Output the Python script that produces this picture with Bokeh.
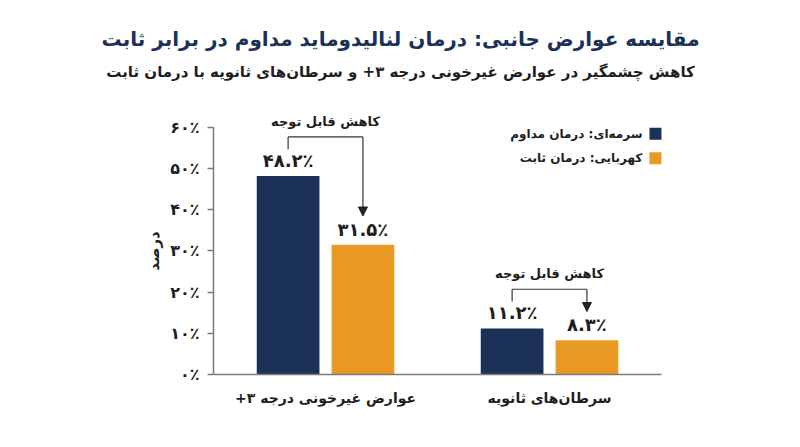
import math
from bokeh.plotting import figure
from bokeh.models import (ColumnDataSource, Range1d, FixedTicker,
                          Label, Arrow, NormalHead)
from bokeh.embed import file_html
from bokeh.resources import INLINE
from bokeh.core.properties import value

RLM = "\u200f"

# ---------------- data ----------------
categories = ["عوارض غیرخونی درجه ۳+", "سرطان‌های ثانویه"]
continuous_values = [48.2, 11.2]
fixed_values = [31.5, 8.3]
continuous_labels = ["۴۸.۲٪", "۱۱.۲٪"]
fixed_labels = ["۳۱.۵٪", "۸.۳٪"]
series_names = ["سرمه‌ای: درمان مداوم", "کهربایی: درمان ثابت"]
y_ticks = [0, 10, 20, 30, 40, 50, 60]
y_tick_labels = ["۰٪", "۱۰٪", "۲۰٪", "۳۰٪", "۴۰٪", "۵۰٪", "۶۰٪"]
annotation_text = "کاهش قابل توجه"
title_text = "مقایسه عوارض جانبی: درمان لنالیدوماید مداوم در برابر ثابت"
subtitle_text = "کاهش چشمگیر در عوارض غیرخونی درجه ۳+ و سرطان‌های ثانویه با درمان ثابت"
y_label = "درصد"

# ---------------- style / layout ----------------
NAVY = "#1b3158"
AMBER = "#e89a24"
TEXT = "#1e1e1e"
AXIS = "#7a7a7a"
FONT = "DejaVu Sans"
BAR_W = 0.28
OFF = 0.167
W, H = 784, 431

n = len(categories)
centers = [i + 0.5 for i in range(n)]
x_cont = [c - OFF for c in centers]
x_fix = [c + OFF for c in centers]

src = ColumnDataSource(dict(xc=x_cont, xf=x_fix, cont=continuous_values,
                            fix=fixed_values, cl=continuous_labels, fl=fixed_labels))

p = figure(width=W, height=H, output_backend="svg", toolbar_location=None,
           x_range=Range1d(-0.951, 2.549), y_range=Range1d(-13.85, 90.85),
           min_border=0)
p.outline_line_color = None
p.xgrid.grid_line_color = None
p.ygrid.grid_line_color = None
p.background_fill_color = "white"
p.border_fill_color = "white"

# bars
p.vbar(x="xc", top="cont", width=BAR_W, source=src, fill_color=NAVY, line_color=None)
p.vbar(x="xf", top="fix", width=BAR_W, source=src, fill_color=AMBER, line_color=None)

# value labels
for xcol, col, lab in (("xc", "cont", "cl"), ("xf", "fix", "fl")):
    p.text(x=xcol, y=col, text=lab, source=src,
           text_align="center", text_baseline="bottom", y_offset=-5,
           text_font=value(FONT), text_font_style="bold",
           text_font_size="18px", text_color=TEXT)

# axes
yax = p.yaxis[0]
yax.fixed_location = 0
yax.bounds = (0, 60)
yax.ticker = FixedTicker(ticks=y_ticks)
yax.major_label_overrides = {t: l for t, l in zip(y_ticks, y_tick_labels)}
yax.major_label_text_font = FONT
yax.major_label_text_font_style = "bold"
yax.major_label_text_font_size = "16px"
yax.major_label_text_color = TEXT
yax.major_label_standoff = 8
yax.major_tick_out = 6
yax.major_tick_in = 0
yax.minor_tick_line_color = None
yax.axis_line_color = AXIS
yax.axis_line_width = 1.5
yax.major_tick_line_color = AXIS
yax.major_tick_line_width = 1.5

xax = p.xaxis[0]
xax.fixed_location = 0
xax.bounds = (0, n)
xax.ticker = FixedTicker(ticks=centers)
xax.major_label_overrides = {c: RLM + l + RLM for c, l in zip(centers, categories)}
xax.major_label_text_font = FONT
xax.major_label_text_font_style = "bold"
xax.major_label_text_font_size = "14px"
xax.major_label_text_color = TEXT
xax.major_label_standoff = 10
xax.major_tick_line_color = None
xax.minor_tick_line_color = None
xax.axis_line_color = AXIS
xax.axis_line_width = 1.5

# y-axis title
p.text(x=[-0.265], y=[30], text=[y_label], angle=math.pi / 2,
       text_align="center", text_baseline="middle",
       text_font=value(FONT), text_font_style="bold",
       text_font_size="15px", text_color=TEXT)

# "significant reduction" brackets
for i in range(n):
    v1, v2 = continuous_values[i], fixed_values[i]
    y_start, y_top, y_tip = v1 + 6.5, v1 + 9.5, v2 + 7.0
    bsrc = ColumnDataSource(dict(x0=[x_cont[i], x_cont[i]], y0=[y_start, y_top],
                                 x1=[x_cont[i], x_fix[i]], y1=[y_top, y_top]))
    p.segment(x0="x0", y0="y0", x1="x1", y1="y1", source=bsrc,
              line_color="#333333", line_width=1.2)
    p.add_layout(Arrow(end=NormalHead(size=9, fill_color="#222222", line_color="#222222"),
                       x_start=x_fix[i], y_start=y_top, x_end=x_fix[i], y_end=y_tip,
                       line_color="#333333", line_width=1.2))
    p.add_layout(Label(x=centers[i], y=y_top + 3.8, text=RLM + annotation_text + RLM,
                       text_align="center", text_baseline="middle",
                       text_font=FONT, text_font_style="bold",
                       text_font_size="13px", text_color=TEXT))

# legend (swatch to the right of text, RTL style)
leg_x = 1.973
leg_y = [58.5, 52.5]
p.rect(x=[leg_x, leg_x], y=leg_y, width=12, height=12, width_units="screen",
       height_units="screen", fill_color=[NAVY, AMBER], line_color=None)
for yy, name in zip(leg_y, series_names):
    p.add_layout(Label(x=leg_x, y=yy, x_offset=-13, text=RLM + name + RLM,
                       text_align="right", text_baseline="middle",
                       text_font=FONT, text_font_style="bold",
                       text_font_size="12px", text_color=TEXT))

# titles
p.add_layout(Label(x=0.835, y=81.6, text=RLM + title_text + RLM,
                   text_align="center", text_baseline="middle",
                   text_font=FONT, text_font_style="bold",
                   text_font_size="20px", text_color=NAVY))
p.add_layout(Label(x=0.835, y=73.4, text=RLM + subtitle_text + RLM,
                   text_align="center", text_baseline="middle",
                   text_font=FONT, text_font_style="bold",
                   text_font_size="15px", text_color=TEXT))

open("out.html", "w").write(file_html(p, INLINE))
